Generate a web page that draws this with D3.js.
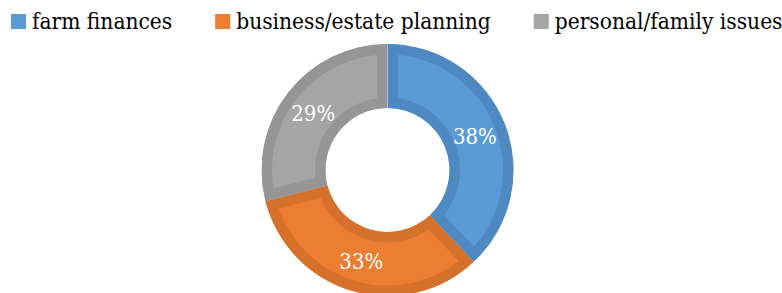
<!DOCTYPE html>
<html>
<head>
<meta charset="utf-8">
<script src="https://cdn.jsdelivr.net/npm/d3@7"></script>
<style>
  body { margin: 0; background: #fff; }
  svg { display: block; }
  text { font-family: "DejaVu Serif", serif; }
</style>
</head>
<body>
<svg id="chart"></svg>
<script>
const width = 782;
const height = 293;

// data
const categories = ["farm finances", "business/estate planning", "personal/family issues"];
const values = [38, 33, 29];
const fills = ["#5b9bd5", "#ed7d31", "#a5a5a5"];
const borders = ["#4f89c1", "#d6712c", "#959595"];

const cx = 387.5, cy = 170;
const outerR = 126, innerR = 62;
const borderW = 21; // clipped to the slice, so ~10.5px shows

const svg = d3.select("#chart")
    .attr("width", width)
    .attr("height", height)
    .attr("viewBox", [0, 0, width, height]);

const color = d3.scaleOrdinal(categories, fills);
const edge = d3.scaleOrdinal(categories, borders);

const pie = d3.pie()
    .sort(null)
    .value(d => d.value);

const arc = d3.arc()
    .innerRadius(innerR)
    .outerRadius(outerR);

const labelArc = d3.arc()
    .innerRadius((innerR + outerR) / 2)
    .outerRadius((innerR + outerR) / 2);

const data = categories.map((c, i) => ({ name: c, value: values[i] }));
const arcs = pie(data);
const total = d3.sum(values);

const g = svg.append("g")
    .attr("transform", `translate(${cx},${cy})`);

const defs = svg.append("defs");
defs.selectAll("clipPath")
  .data(arcs)
  .join("clipPath")
    .attr("id", (d, i) => "slice" + i)
  .append("path")
    .attr("d", arc);

g.selectAll("path.slice")
  .data(arcs)
  .join("path")
    .attr("class", "slice")
    .attr("d", arc)
    .attr("fill", d => color(d.data.name))
    .attr("stroke", d => edge(d.data.name))
    .attr("stroke-width", borderW)
    .attr("clip-path", (d, i) => `url(#slice${i})`);

// the reference face is a narrow serif, so squeeze DejaVu Serif a bit
const fmt = d3.format(".0%");
g.selectAll("text.lbl")
  .data(arcs)
  .join("text")
    .attr("class", "lbl")
    .attr("transform", d => `translate(${labelArc.centroid(d)}) scale(0.86,1)`)
    .attr("text-anchor", "middle")
    .attr("dy", "0.36em")
    .attr("fill", "#fff")
    .attr("font-size", 23)
    .text(d => fmt(d.data.value / total));

// legend: marker at x, text 21px after, 43px gap to the next item
const legend = svg.append("g");
const squeeze = 0.9;
let x = 11;
categories.forEach(c => {
  const item = legend.append("g").attr("transform", `translate(${x},0)`);
  item.append("rect")
      .attr("x", 0)
      .attr("y", 14)
      .attr("width", 15)
      .attr("height", 15)
      .attr("fill", color(c));
  const t = item.append("text")
      .attr("transform", `translate(21,29) scale(${squeeze},1)`)
      .attr("fill", "#000")
      .attr("font-size", 22.5)
      .text(c);
  x += 21 + t.node().getComputedTextLength() * squeeze + 43;
});
</script>
</body>
</html>
